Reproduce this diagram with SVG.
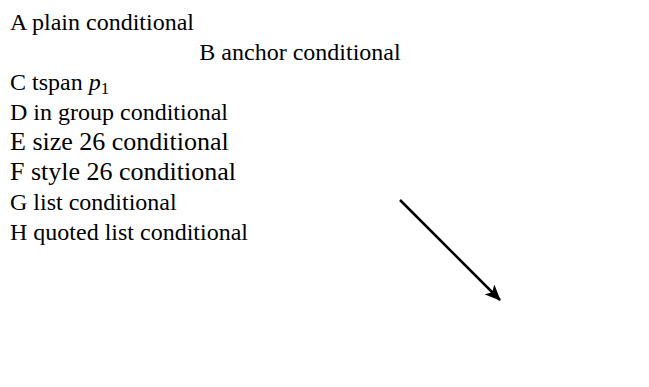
<svg xmlns="http://www.w3.org/2000/svg" width="649" height="387" viewBox="0 0 649 387">
<defs>
<marker id="ah" viewBox="0 0 16 14" refX="15" refY="7" markerWidth="16" markerHeight="14" markerUnits="userSpaceOnUse" orient="auto">
<path d="M0,0 L16,7 L0,14 L4,7 Z" fill="#000"/>
</marker>
</defs>
<text x="10" y="30" font-family="Liberation Serif" font-size="24">A plain conditional</text>
<text x="300" y="60" font-family="Liberation Serif" font-size="24" text-anchor="middle">B anchor conditional</text>
<text x="10" y="90" font-family="Liberation Serif" font-size="24">C tspan <tspan font-style="italic">p</tspan><tspan font-size="17" dy="4">1</tspan></text>
<g id="g1"><text x="10" y="120" font-family="Liberation Serif" font-size="24">D in group conditional</text></g>
<text x="10" y="150" font-family="Liberation Serif" font-size="26">E size 26 conditional</text>
<text x="10" y="180" style="font-family:'Liberation Serif';font-size:26px">F style 26 conditional</text>
<text x="10" y="210" font-family="Liberation Serif, serif" font-size="24">G list conditional</text>
<text x="10" y="240" font-family="'Liberation Serif', serif" font-size="24">H quoted list conditional</text>
<line x1="400" y1="200" x2="500" y2="300" stroke="#000" stroke-width="2.5" marker-end="url(#ah)"/>
</svg>
